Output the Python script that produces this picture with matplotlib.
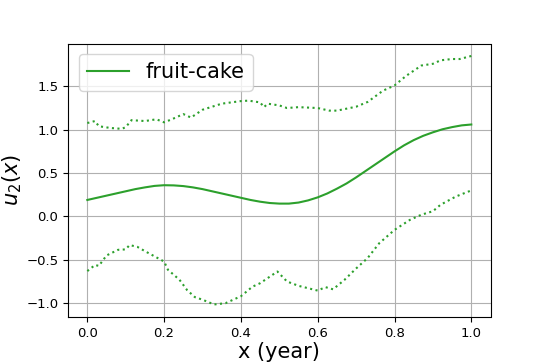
import matplotlib
matplotlib.use("Agg")
import matplotlib.pyplot as plt

x_mean = [0.0, 0.025, 0.05, 0.075, 0.1, 0.125, 0.15, 0.175, 0.2, 0.225, 0.25, 0.275,
          0.3, 0.325, 0.35, 0.375, 0.4, 0.425, 0.45, 0.475, 0.5, 0.525, 0.55, 0.575,
          0.6, 0.625, 0.65, 0.675, 0.7, 0.725, 0.75, 0.775, 0.8, 0.825, 0.85, 0.875,
          0.9, 0.925, 0.95, 0.975, 1.0]
y_mean = [0.19, 0.215, 0.24, 0.265, 0.29, 0.315, 0.335, 0.352, 0.36, 0.358, 0.35, 0.335,
          0.315, 0.29, 0.265, 0.24, 0.215, 0.19, 0.17, 0.155, 0.148, 0.148, 0.16, 0.185,
          0.22, 0.265, 0.32, 0.38, 0.45, 0.525, 0.6, 0.675, 0.75, 0.82, 0.88, 0.93,
          0.97, 1.005, 1.03, 1.05, 1.06]

x_upper = [0.0, 0.02, 0.03, 0.06, 0.09, 0.1, 0.115, 0.15, 0.18, 0.2, 0.22, 0.25,
           0.27, 0.3, 0.35, 0.4, 0.42, 0.45, 0.46, 0.47, 0.5, 0.52, 0.55, 0.6,
           0.63, 0.65, 0.7, 0.73, 0.77, 0.8, 0.83, 0.87, 0.9, 0.92, 0.95, 0.97, 1.0]
y_upper = [1.077, 1.10, 1.04, 1.02, 1.01, 1.03, 1.11, 1.10, 1.12, 1.085, 1.12, 1.18,
           1.14, 1.23, 1.30, 1.33, 1.335, 1.315, 1.26, 1.30, 1.28, 1.25, 1.26, 1.25,
           1.22, 1.22, 1.265, 1.32, 1.45, 1.51, 1.62, 1.74, 1.76, 1.80, 1.815, 1.815, 1.85]

x_lower = [0.0, 0.02, 0.03, 0.05, 0.08, 0.1, 0.11, 0.13, 0.15, 0.2, 0.21, 0.24,
           0.26, 0.28, 0.3, 0.33, 0.36, 0.4, 0.43, 0.45, 0.47, 0.495, 0.52, 0.55,
           0.6, 0.62, 0.64, 0.67, 0.7, 0.73, 0.76, 0.8, 0.84, 0.87, 0.9, 0.92, 0.96, 1.0]
y_lower = [-0.63, -0.56, -0.57, -0.45, -0.385, -0.38, -0.33, -0.35, -0.40, -0.52, -0.615, -0.73,
           -0.85, -0.93, -0.96, -1.015, -1.0, -0.92, -0.81, -0.77, -0.71, -0.635, -0.75, -0.80,
           -0.855, -0.815, -0.84, -0.73, -0.60, -0.48, -0.31, -0.155, -0.04, 0.02, 0.06, 0.135, 0.23, 0.30]

color = "#2ca02c"

fig, ax = plt.subplots(figsize=(5.45, 3.63), dpi=100)
ax.plot(x_mean, y_mean, color=color, label="fruit-cake")
ax.plot(x_upper, y_upper, color=color, linestyle=":")
ax.plot(x_lower, y_lower, color=color, linestyle=":")
ax.grid(True)
ax.set_xlabel("x (year)", fontsize=15, labelpad=2)
ax.set_ylabel("$u_2(x)$", fontsize=15, labelpad=2)
ax.tick_params(labelsize=9.5)
ax.legend(loc="upper left", fontsize=15)
fig.subplots_adjust(left=0.125, right=0.9, top=0.88, bottom=0.127)
fig.savefig("out.png", dpi=100)
